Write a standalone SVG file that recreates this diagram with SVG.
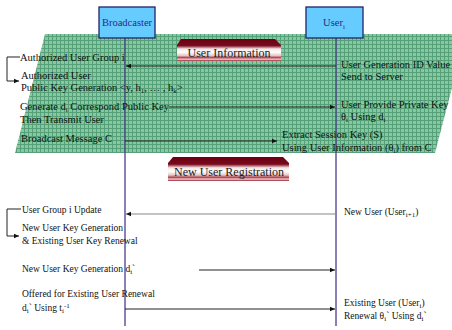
<svg xmlns="http://www.w3.org/2000/svg" width="452" height="330" viewBox="0 0 452 330">
<style>
text{font-family:"Liberation Serif","DejaVu Serif","Times New Roman",serif;fill:#111}
.t{font-size:10.5px}
.s{font-size:9.5px}
.sub{font-size:7px}
.hd{font-size:10.5px;fill:#2a2a80}
.bn{font-size:12px;fill:#222}
.life{stroke:#4b3c8c;stroke-width:1.3;fill:none}
.msg{stroke:#222;stroke-width:1;fill:none}
.gray{stroke:#888;stroke-width:1.2;fill:none}
.box{fill:#66ccff;stroke:#22226a;stroke-width:1.3}
</style>
<defs>
<pattern id="grid" width="4" height="4" patternUnits="userSpaceOnUse">
<rect width="4" height="4" fill="#86c8a0"/>
<path d="M0 0.5H4M0.5 0V4" stroke="#55a078" stroke-width="1"/>
</pattern>
<linearGradient id="bg" x1="0" y1="0" x2="0" y2="1">
<stop offset="0" stop-color="#6a0012"/>
<stop offset="0.3" stop-color="#7a0a1e"/>
<stop offset="0.45" stop-color="#f4e6e6"/>
<stop offset="0.6" stop-color="#ffffff"/>
<stop offset="0.75" stop-color="#e8c8c8"/>
<stop offset="0.85" stop-color="#b04050"/>
<stop offset="0.92" stop-color="#f0d0d0"/>
<stop offset="1" stop-color="#9a2030"/>
</linearGradient>
<marker id="ah" markerWidth="6" markerHeight="6" refX="5" refY="3" orient="auto" markerUnits="userSpaceOnUse">
<path d="M0 0.8L5 3L0 5.2Z" fill="#111"/>
</marker>
</defs>

<polygon points="45,34 466,34 435,153 15,153" fill="url(#grid)"/>

<g id="lifelines">
<line class="life" x1="125" y1="38" x2="125" y2="326"/>
<line class="life" x1="336" y1="38" x2="336" y2="326"/>
</g>

<g id="broadcaster">
<rect class="box" x="99" y="7" width="56" height="31"/>
<text class="hd" x="127" y="26" text-anchor="middle">Broadcaster</text>
</g>
<g id="user">
<rect class="box" x="306" y="7" width="57" height="31"/>
<text class="hd" x="334" y="26" text-anchor="middle">User<tspan class="sub" dy="2.5">i</tspan></text>
</g>

<g id="banner-user-info">
<path d="M181 39H275L281 45V61H177V45Z" fill="url(#bg)"/>
<text class="bn" x="229" y="57" text-anchor="middle">User Information</text>
</g>
<g id="banner-new-user">
<path d="M173 157H283L289 163V181H168V163Z" fill="url(#bg)"/>
<text class="bn" x="229" y="176" text-anchor="middle">New User Registration</text>
</g>

<g id="connectors">
<line class="msg" x1="336" y1="66" x2="126" y2="66" marker-end="url(#ah)"/>
<line class="msg" x1="169" y1="107" x2="335" y2="107" marker-end="url(#ah)"/>
<line class="msg" x1="125" y1="141" x2="277" y2="141" marker-end="url(#ah)"/>
<line class="gray" x1="336" y1="214" x2="126" y2="214" marker-end="url(#ah)"/>
<line class="msg" x1="199" y1="270" x2="335" y2="270" marker-end="url(#ah)"/>
<line class="msg" x1="125" y1="309" x2="335" y2="309" marker-end="url(#ah)"/>
<path class="msg" d="M20 57H7V81H19" marker-end="url(#ah)"/>
<path class="msg" d="M21 209H7V236H19" marker-end="url(#ah)"/>
</g>

<g id="labels-top">
<text class="t" x="20" y="61">Authorized User Group i</text>
<text class="t" x="21" y="79">Authorized User</text>
<text class="t" x="21" y="91">Public Key Generation &lt;y, h<tspan class="sub" dy="2">1</tspan><tspan dy="-2">, … , h</tspan><tspan class="sub" dy="2">k</tspan><tspan dy="-2">&gt;</tspan></text>
<text class="t" x="20" y="110">Generate d<tspan class="sub" dy="2">i</tspan><tspan dy="-2"> Correspond Public Key</tspan></text>
<text class="t" x="20" y="123">Then Transmit  User</text>
<text class="t" x="21" y="142">Broadcast Message C</text>
<text class="t" x="341" y="68">User Generation ID Value</text>
<text class="t" x="341" y="80">Send to Server</text>
<text class="t" x="341" y="108">User Provide Private Key</text>
<text class="t" x="341" y="120">θ<tspan class="sub" dy="2">i</tspan><tspan dy="-2"> Using d</tspan><tspan class="sub" dy="2">i</tspan></text>
<text class="t" x="282" y="138">Extract Session Key (S)</text>
<text class="t" x="282" y="151">Using User Information (θ<tspan class="sub" dy="2">i</tspan><tspan dy="-2">) from C</tspan></text>
</g>

<g id="labels-bottom">
<text class="s" x="22" y="213">User Group i Update</text>
<text class="s" x="22" y="231">New User Key Generation</text>
<text class="s" x="22" y="244">&amp; Existing User Key Renewal</text>
<text class="s" x="22" y="272">New User Key Generation d<tspan class="sub" dy="2">i</tspan><tspan dy="-2">`</tspan></text>
<text class="s" x="22" y="297">Offered for Existing User Renewal</text>
<text class="s" x="22" y="311">d<tspan class="sub" dy="2">i</tspan><tspan dy="-2">` Using t</tspan><tspan class="sub" dy="2">i</tspan><tspan class="sub" dy="-5">-1</tspan></text>
<text class="s" x="344" y="215">New User (User<tspan class="sub" dy="2">i+1</tspan><tspan dy="-2">)</tspan></text>
<text class="s" x="344" y="306">Existing User (User<tspan class="sub" dy="2">i</tspan><tspan dy="-2">)</tspan></text>
<text class="s" x="344" y="319">Renewal θ<tspan class="sub" dy="2">i</tspan><tspan dy="-2">` Using d</tspan><tspan class="sub" dy="2">i</tspan><tspan dy="-2">`</tspan></text>
</g>
</svg>
